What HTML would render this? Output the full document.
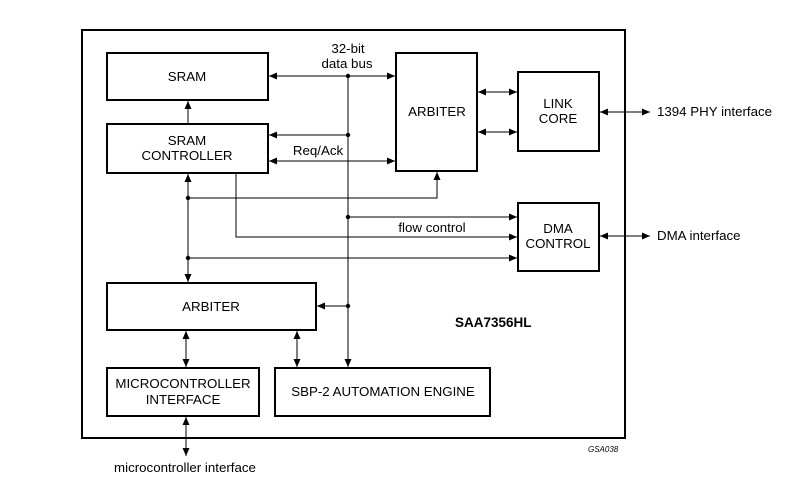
<!DOCTYPE html>
<html><head><meta charset="utf-8"><style>
body{margin:0;background:#fff}
svg{display:block}
text{font-family:"Liberation Sans",Arial,sans-serif;font-size:13.3px;fill:#000}
</style></head><body>
<svg width="802" height="496" viewBox="0 0 802 496" xmlns="http://www.w3.org/2000/svg">
<defs>
<marker id="a" markerWidth="8" markerHeight="7" refX="8" refY="3.5" orient="auto-start-reverse" markerUnits="userSpaceOnUse">
<path d="M0,0 L8,3.5 L0,7 Z" fill="#000"/></marker>
</defs>
<g fill="none" stroke="#000" stroke-width="2">
<rect x="82" y="30" width="543" height="408"/>
<rect x="107" y="53" width="161" height="47"/>
<rect x="107" y="124" width="161" height="49"/>
<rect x="396" y="53" width="81" height="118"/>
<rect x="518" y="72" width="81" height="79"/>
<rect x="518" y="203" width="81" height="68"/>
<rect x="107" y="283" width="209" height="47"/>
<rect x="107" y="368" width="152" height="48"/>
<rect x="275" y="368" width="215" height="48"/>
</g>
<g fill="none" stroke="#000" stroke-width="1">
<line x1="269" y1="76" x2="395" y2="76" marker-start="url(#a)" marker-end="url(#a)"/>
<line x1="348" y1="76" x2="348" y2="367" marker-end="url(#a)"/>
<line x1="348" y1="135" x2="269" y2="135" marker-end="url(#a)"/>
<line x1="269" y1="161" x2="395" y2="161" marker-start="url(#a)" marker-end="url(#a)"/>
<line x1="188" y1="124" x2="188" y2="101" marker-end="url(#a)"/>
<line x1="188" y1="174" x2="188" y2="282" marker-start="url(#a)" marker-end="url(#a)"/>
<polyline points="188,198 437,198 437,172" marker-end="url(#a)"/>
<line x1="348" y1="217" x2="517" y2="217" marker-end="url(#a)"/>
<polyline points="236,173 236,237 517,237" marker-end="url(#a)"/>
<line x1="188" y1="258" x2="517" y2="258" marker-end="url(#a)"/>
<line x1="478" y1="92" x2="517" y2="92" marker-start="url(#a)" marker-end="url(#a)"/>
<line x1="478" y1="132" x2="517" y2="132" marker-start="url(#a)" marker-end="url(#a)"/>
<line x1="600" y1="112" x2="650" y2="112" marker-start="url(#a)" marker-end="url(#a)"/>
<line x1="600" y1="236" x2="650" y2="236" marker-start="url(#a)" marker-end="url(#a)"/>
<line x1="348" y1="306" x2="317" y2="306" marker-end="url(#a)"/>
<line x1="186" y1="331" x2="186" y2="367" marker-start="url(#a)" marker-end="url(#a)"/>
<line x1="297" y1="331" x2="297" y2="367" marker-start="url(#a)" marker-end="url(#a)"/>
<line x1="186" y1="417" x2="186" y2="456" marker-start="url(#a)" marker-end="url(#a)"/>
</g>
<g fill="#000">
<circle cx="348" cy="76" r="2.2"/><circle cx="348" cy="135" r="2.2"/>
<circle cx="188" cy="198" r="2.2"/><circle cx="348" cy="217" r="2.2"/>
<circle cx="188" cy="258" r="2.2"/><circle cx="348" cy="306" r="2.2"/>
</g>
<g text-anchor="middle">
<text x="348" y="53">32-bit</text>
<text x="347" y="68">data bus</text>
<text x="187" y="81">SRAM</text>
<text x="187" y="145">SRAM</text>
<text x="187" y="160">CONTROLLER</text>
<text x="318" y="155">Req/Ack</text>
<text x="437" y="116">ARBITER</text>
<text x="558" y="108">LINK</text>
<text x="558" y="123">CORE</text>
<text x="558" y="233">DMA</text>
<text x="558" y="248">CONTROL</text>
<text x="432" y="232">flow control</text>
<text x="211" y="311">ARBITER</text>
<text x="183" y="388">MICROCONTROLLER</text>
<text x="183" y="404">INTERFACE</text>
<text x="383" y="396">SBP-2 AUTOMATION ENGINE</text>
<text x="185" y="472">microcontroller interface</text>
</g>
<text x="657" y="116">1394 PHY interface</text>
<text x="657" y="240">DMA interface</text>
<text x="455" y="327" style="font-weight:bold;font-size:13.5px">SAA7356HL</text>
<text x="588" y="452" style="font-style:italic;font-size:8px">GSA038</text>
</svg>
</body></html>
